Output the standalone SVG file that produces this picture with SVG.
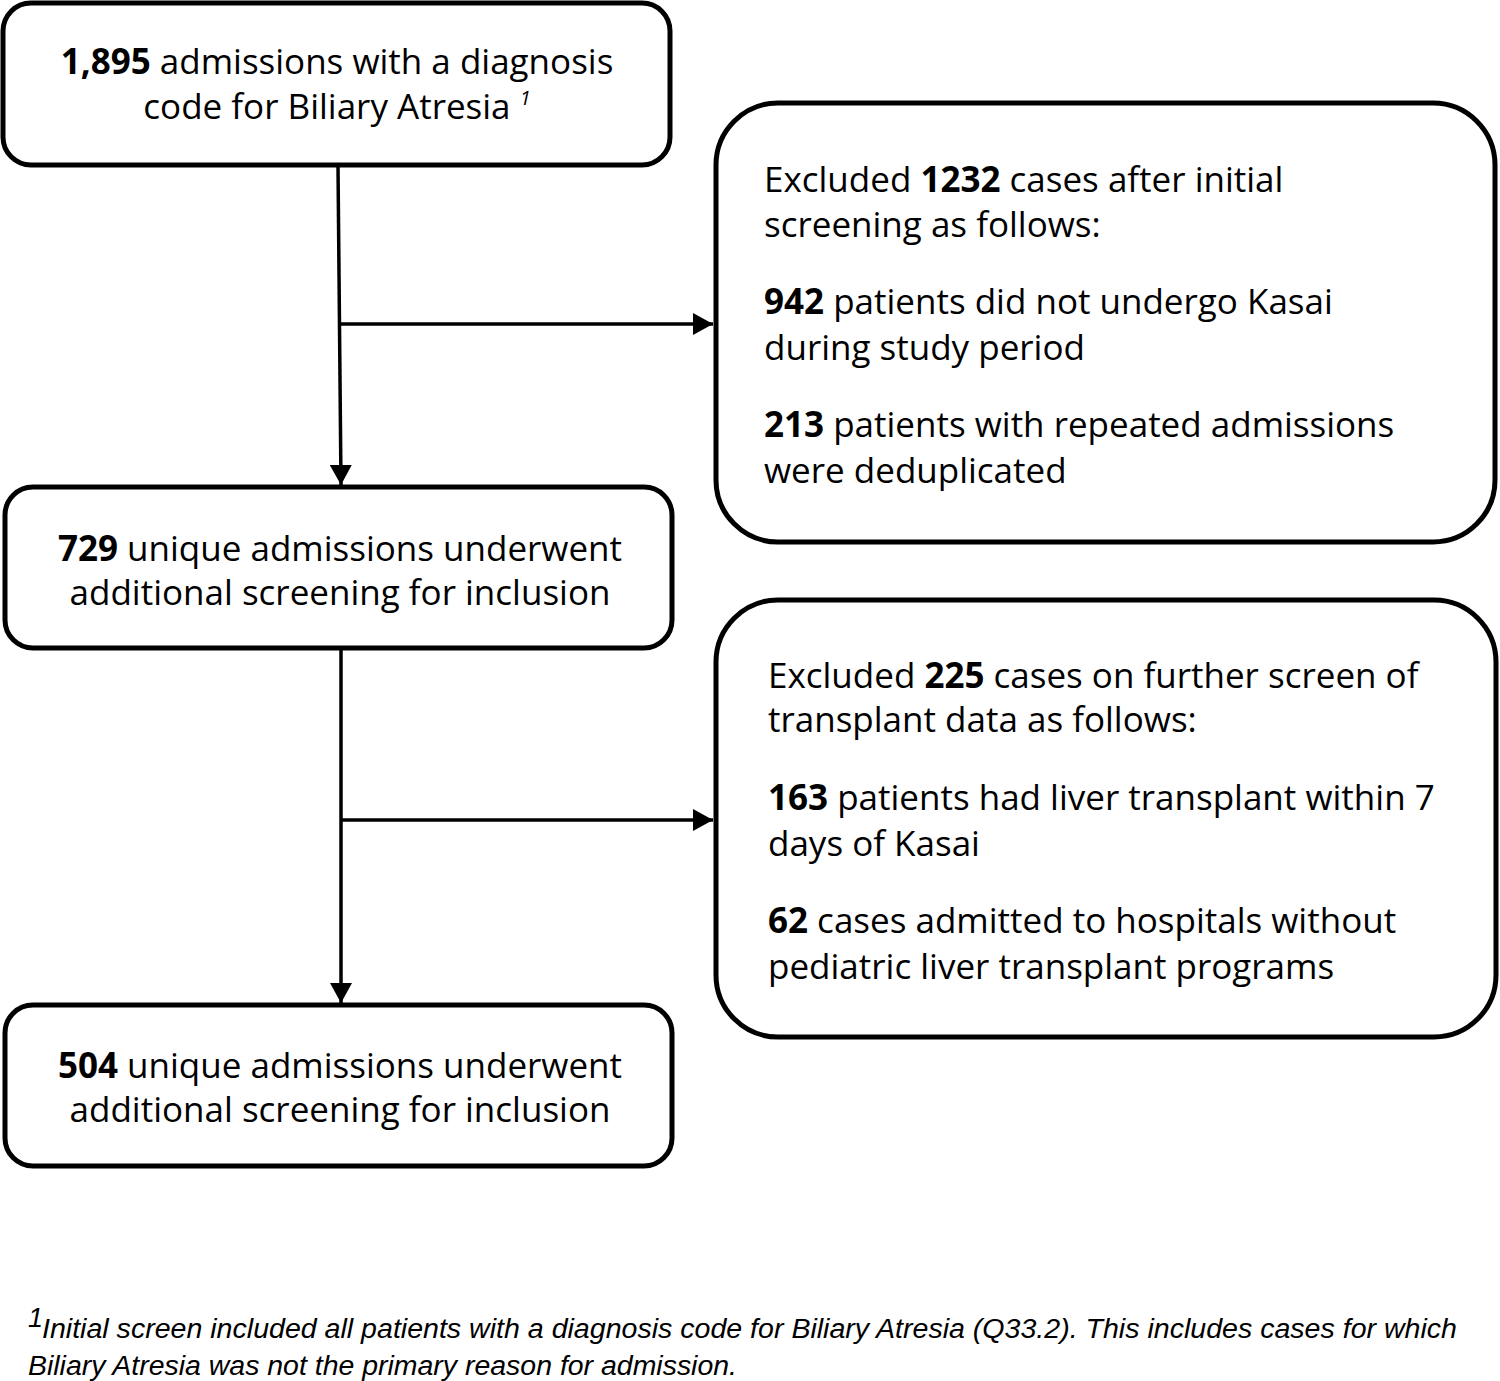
<svg xmlns="http://www.w3.org/2000/svg" width="1500" height="1381" viewBox="0 0 1500 1381">
<style>
.box{fill:#fff;stroke:#000;stroke-width:5}
.t{font-family:"Open Sans","Noto Sans","DejaVu Sans",sans-serif;font-size:35px;fill:#000}
.b{font-weight:bold}
.c{text-anchor:middle}
.ln{fill:none;stroke:#000;stroke-width:3.5}
.fn{font-family:"Liberation Sans",Arial,sans-serif;font-style:italic;font-size:27px;fill:#000}
</style>
<defs>
<marker id="ah" viewBox="0 0 20 22" refX="20" refY="11" markerWidth="20" markerHeight="22" markerUnits="userSpaceOnUse" orient="auto">
<path d="M0,0 L20,11 L0,22 Z" fill="#000"/>
</marker>
</defs>
<rect width="1500" height="1381" fill="#fff"/>
<g id="connectors">
<line class="ln" x1="338" y1="166" x2="341" y2="485" marker-end="url(#ah)"/>
<line class="ln" x1="341" y1="324" x2="713" y2="324" marker-end="url(#ah)"/>
<line class="ln" x1="341" y1="650" x2="341" y2="1003" marker-end="url(#ah)"/>
<line class="ln" x1="341" y1="820" x2="713" y2="820" marker-end="url(#ah)"/>
</g>
<g id="n1">
<rect class="box" x="3" y="3" width="667" height="162" rx="28"/>
<text class="t c" x="337" y="74"><tspan class="b">1,895</tspan> admissions with a diagnosis</text>
<text class="t c" x="337" y="119">code for Biliary Atresia <tspan font-style="italic" font-size="20" dy="-14">1</tspan></text>
</g>
<g id="n2">
<rect class="box" x="716" y="103" width="779" height="439" rx="62"/>
<text class="t" x="764" y="192">Excluded <tspan class="b">1232</tspan> cases after initial</text>
<text class="t" x="764" y="237">screening as follows:</text>
<text class="t" x="764" y="314"><tspan class="b">942</tspan> patients did not undergo Kasai</text>
<text class="t" x="764" y="360">during study period</text>
<text class="t" x="764" y="437"><tspan class="b">213</tspan> patients with repeated admissions</text>
<text class="t" x="764" y="483">were deduplicated</text>
</g>
<g id="n3">
<rect class="box" x="5" y="487" width="667" height="161" rx="28"/>
<text class="t c" x="340" y="561"><tspan class="b">729</tspan> unique admissions underwent</text>
<text class="t c" x="340" y="605">additional screening for inclusion</text>
</g>
<g id="n4">
<rect class="box" x="716" y="600" width="780" height="437" rx="62"/>
<text class="t" x="768" y="688">Excluded <tspan class="b">225</tspan> cases on further screen of</text>
<text class="t" x="768" y="732">transplant data as follows:</text>
<text class="t" x="768" y="810"><tspan class="b">163</tspan> patients had liver transplant within 7</text>
<text class="t" x="768" y="856">days of Kasai</text>
<text class="t" x="768" y="933"><tspan class="b">62</tspan> cases admitted to hospitals without</text>
<text class="t" x="768" y="979">pediatric liver transplant programs</text>
</g>
<g id="n5">
<rect class="box" x="5" y="1005" width="667" height="161" rx="28"/>
<text class="t c" x="340" y="1078"><tspan class="b">504</tspan> unique admissions underwent</text>
<text class="t c" x="340" y="1122">additional screening for inclusion</text>
</g>
<g id="footnote">
<text class="fn" x="28" y="1327" font-size="15">1</text>
<text class="fn" x="42" y="1338" textLength="1415" lengthAdjust="spacingAndGlyphs">Initial screen included all patients with a diagnosis code for Biliary Atresia (Q33.2). This includes cases for which</text>
<text class="fn" x="28" y="1375" textLength="709" lengthAdjust="spacingAndGlyphs">Biliary Atresia was not the primary reason for admission.</text>
</g>
</svg>
